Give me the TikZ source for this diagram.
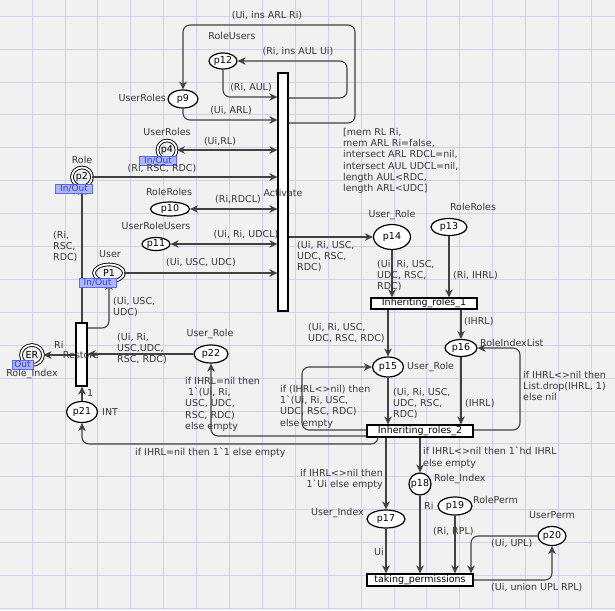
\documentclass[tikz,border=0pt]{standalone}
\usepackage{fontspec}
\setmainfont{DejaVu Sans}
\usetikzlibrary{shapes.geometric,arrows.meta}

\definecolor{canvas}{RGB}{241,241,241}
\definecolor{gridblue}{RGB}{208,208,242}
\definecolor{inkgray}{RGB}{55,55,55}
\definecolor{arcgray}{RGB}{65,65,65}
\definecolor{tagfill}{RGB}{172,182,250}
\definecolor{tagline}{RGB}{95,105,230}
\definecolor{tagtext}{RGB}{50,60,215}

\tikzset{
  place/.style={ellipse, draw=black, fill=white, line width=1.2pt, inner sep=0pt},
  portplace/.style={ellipse, draw=black, double=white, double distance=1.8pt, line width=0.9pt, inner sep=0pt},
  trans/.style={rectangle, draw=black, fill=white, line width=1.2pt, inner sep=0pt},
  arc/.style={->, draw=arcgray, line width=1.1pt},
  biarc/.style={<->, draw=arcgray, line width=1.1pt},
  lbl/.style={text=inkgray, inner sep=0pt, align=left},
  porttag/.style={fill=tagfill, draw=tagline, text=tagtext, inner sep=0.5pt, line width=0.6pt,
    text height=6.8pt, text depth=1.2pt, font=\fontsize{9}{10}\selectfont},
  gridline/.style={draw=gridblue, line width=0.5pt},
}

\begin{document}
\begin{tikzpicture}[x=1pt,y=-1pt, font={\fontsize{9.5}{11.2}\selectfont},
    >={Stealth[length=8pt,width=7.5pt,inset=2.5pt]}]
	\useasboundingbox (0,0) rectangle (615,610);
	\fill[canvas] (0,0) rectangle (615,610);
	\foreach \gx in {1,...,18} \draw[gridline] ({32.9*\gx-1},0) -- ++(0,610);
	\foreach \gy in {0,...,18} \draw[gridline] (0,{16+32.9*\gy}) -- ++(615,0);
	% transitions
	\node[trans, minimum width=10, minimum height=238] (act) at (283,192) {};
	\node[trans, minimum width=106, minimum height=11] (ir1) at (424,303.5) {Inheriting\_roles\_1};
	\node[trans, minimum width=106, minimum height=12] (ir2) at (420,431) {Inheriting\_roles\_2};
	\node[trans, minimum width=106, minimum height=12] (tp) at (420,580) {taking\_permissions};
	\node[trans, minimum width=11, minimum height=63] (rst) at (81.5,354.5) {};
	% places
	\node[place, minimum width=30, minimum height=18] (p9) at (183,99) {p9};
	\node[place, minimum width=28, minimum height=16] (p12) at (223,61) {p12};
	\node[place, minimum width=39, minimum height=14] (p10) at (170,209) {p10};
	\node[place, minimum width=28, minimum height=13] (p11) at (156,244) {p11};
	\node[place, minimum width=37, minimum height=25] (p14) at (392,237) {p14};
	\node[place, minimum width=36, minimum height=17] (p13) at (449,227) {p13};
	\node[place, minimum width=31, minimum height=20] (p15) at (388,367) {p15};
	\node[place, minimum width=32, minimum height=17] (p16) at (461,348) {p16};
	\node[place, minimum width=34, minimum height=18] (p22) at (211,354) {p22};
	\node[place, minimum width=31, minimum height=21] (p21) at (82,412) {p21};
	\node[place, minimum width=38, minimum height=18] (p17) at (386,519) {p17};
	\node[place, circle, minimum size=22] (p18) at (420,484) {p18};
	\node[place, minimum width=34, minimum height=18] (p19) at (455,506) {p19};
	\node[place, minimum width=28, minimum height=19] (p20) at (552,536) {p20};
	% port places
	\node[portplace, minimum width=19, minimum height=19] (p4) at (167,150) {p4};
	\node[portplace, minimum width=20, minimum height=19] (p2) at (82,177) {p2};
	\node[portplace, minimum width=30, minimum height=17] (p1) at (109,273) {P1};
	\node[portplace, minimum width=22, minimum height=20] (er) at (32,355) {ER};

	% arcs round Activate
	\draw[arc, rounded corners=7] (act.east |- 0,123) -- (355,123) -- (355,25) -- (183,25) -- (p9.north);
	\draw[arc, rounded corners=7] (act.east |- 0,98) -- (347,98) -- (347,61) -- (p12.east);
	\draw[arc, rounded corners=7] (p12.south) -- (223,97) -- (act.west |- 0,97);
	\draw[arc, rounded corners=7] (p9.south) -- (183,120) -- (act.west |- 0,120);
	\draw[biarc] (p4.east) -- (act.west |- p4.east);
	\draw[arc] (p2.east) -- (act.west |- p2.east);
	\draw[biarc] (p10.east) -- (act.west |- p10.east);
	\draw[biarc] (p11.east) -- (act.west |- p11.east);
	\draw[arc] (p1.east) -- (act.west |- p1.east);
	\draw[arc] (act.east |- p14.west) -- (p14.west);
	% inheriting roles
	\draw[arc] (p14.south) -- (p14.south |- ir1.north);
	\draw[arc] (p13.south) -- (p13.south |- ir1.north);
	\draw[arc] (ir1.south -| p15.north) -- (p15.north);
	\draw[arc] (ir1.south -| p16.north) -- (p16.north);
	\draw[arc] (p15.south) -- (p15.south |- ir2.north);
	\draw[arc] (p16.south) -- (p16.south |- ir2.north);
	\draw[arc, rounded corners=7] (ir2.east |- 0,430) -- (520,430) -- (520,348) -- (p16.east);
	\draw[arc, rounded corners=7] (ir2.west |- 0,430) -- (302,430) -- (302,367) -- (p15.west);
	\draw[arc, rounded corners=7] (ir2.west |- 0,436) -- (p22.south |- 0,436) -- (p22.south);
	\draw[arc, rounded corners=7] (ir2.south -| 378,0) -- (378,444) -- (82,444) -- (p21.south);
	\draw[arc] (ir2.south -| p17.north) -- (p17.north);
	\draw[arc] (ir2.south -| p18.north) -- (p18.north);
	% restore
	\draw[arc] (p22.west) -- (rst.east |- p22.west);
	\draw[arc] (rst.west |- er.east) -- (er.east);
	\draw[arc] (p21.north) -- (rst.south -| p21.north);
	\draw[arc] (rst.north -| p2.south) -- (p2.south);
	\draw[arc, rounded corners=7] (rst.east |- 0,328) -- (109,328) -- (p1.south);
	% permissions
	\draw[arc] (p17.south) -- (p17.south |- tp.north);
	\draw[arc] (p18.south) -- (p18.south |- tp.north);
	\draw[arc] (p19.south) -- (p19.south |- tp.north);
	\draw[arc, rounded corners=7] (p20.west) -- (471,536) -- (471,0 |- tp.north);
	\draw[arc, rounded corners=7] (tp.east) -- (552,580) -- (p20.south);

	% port tags
	\node[porttag, minimum width=37] (p4tag) at (158,161) {In/Out};
	\node[porttag, minimum width=37] (p2tag) at (74,188.5) {In/Out};
	\node[porttag, minimum width=37] (p1tag) at (97.5,283) {In/Out};
	\node[porttag, minimum width=21] (ertag) at (22.5,364.5) {Out};

	% names and inscriptions
	\node[lbl] (actL) at (283,193) {Activate};
	\node[lbl] (rstL) at (81,355) {Restore};
	\node[lbl] (lInsArl) at (267,16) {(Ui, ins ARL Ri)};
	\node[lbl] (lRoleUsers) at (232,36) {RoleUsers};
	\node[lbl] (lInsAul) at (298,52) {(Ri, ins AUL Ui)};
	\node[lbl] (lAul) at (251,88) {(Ri, AUL)};
	\node[lbl, anchor=east] (lUserRoles9) at (166,98) {UserRoles};
	\node[lbl] (lArl) at (231,111) {(Ui, ARL)};
	\node[lbl] (lUserRoles4) at (167,132) {UserRoles};
	\node[lbl] (lRl) at (220,142) {(Ui,RL)};
	\node[lbl] (lRole) at (82,160) {Role};
	\node[lbl] (lRscRdc) at (162,169) {(Ri, RSC, RDC)};
	\node[lbl] (lRoleRoles10) at (169,192) {RoleRoles};
	\node[lbl] (lRdcl) at (238,200) {(Ri,RDCL)};
	\node[lbl] (lUserRoleUsers) at (156,226) {UserRoleUsers};
	\node[lbl] (lUdcl) at (246,235) {(Ui, Ri, UDCL)};
	\node[lbl] (lUscUdc) at (201,263) {(Ui, USC, UDC)};
	\node[lbl] (lUser) at (110,254) {User};
	\node[lbl, anchor=north west] (lRestoreRole) at (53,231) {(Ri,\\RSC,\\RDC)};
	\node[lbl, anchor=north west] (lRestoreUser) at (113,297) {(Ui, USC,\\UDC)};
	\node[lbl, anchor=north west] (lToP14) at (297,241) {(Ui, Ri, USC,\\UDC, RSC,\\RDC)};
	\node[lbl, anchor=north west] (lGuard) at (343,128) {[mem RL Ri,\\mem ARL Ri=false,\\intersect ARL RDCL=nil,\\intersect AUL UDCL=nil,\\length AUL<RDC,\\length ARL<UDC]};
	\node[lbl] (lUserRole14) at (392,215) {User\_Role};
	\node[lbl] (lRoleRoles13) at (473,207) {RoleRoles};
	\node[lbl, anchor=north west] (lP14Ir1) at (377,260) {(Ui, Ri, USC,\\UDC, RSC,\\RDC)};
	\node[lbl, anchor=west] (lIhrl13) at (453,276) {(Ri, IHRL)};
	\node[lbl, anchor=west] (lIhrl1) at (464,322) {(IHRL)};
	\node[lbl, anchor=west] (lRoleIndexList) at (480,343) {RoleIndexList};
	\node[lbl, anchor=west] (lUserRole15) at (407,367) {User\_Role};
	\node[lbl, anchor=north west] (lIr1P15) at (308,323) {(Ui, Ri, USC,\\UDC, RSC, RDC)};
	\node[lbl, anchor=north west] (lDrop) at (523,371) {if IHRL<>nil then\\List.drop(IHRL, 1)\\else nil};
	\node[lbl, anchor=north west] (lP15Ir2) at (393,388) {(Ui, Ri, USC,\\UDC, RSC,\\RDC)};
	\node[lbl, anchor=west] (lIhrl2) at (465,404) {(IHRL)};
	\node[lbl, anchor=north west] (lBackP15) at (280,385) {if (IHRL<>nil) then\\1\textasciigrave(Ui, Ri, USC,\\UDC, RSC, RDC)\\else empty};
	\node[lbl, anchor=north west] (lToP22) at (185,377) {if IHRL=nil then\\\hspace{3pt}1\textasciigrave(Ui, Ri,\\USC, UDC,\\RSC, RDC)\\else empty};
	\node[lbl, anchor=west] (lToP21) at (135,453) {if IHRL=nil then 1\textasciigrave1 else empty};
	\node[lbl, anchor=north west] (lToP18) at (423,447) {if IHRL<>nil then 1\textasciigrave hd IHRL\\else empty};
	\node[lbl, anchor=north east, align=right] (lToP17) at (383,469) {if IHRL<>nil then\\1\textasciigrave Ui else empty};
	\node[lbl, anchor=east] (lUserIndex) at (364,513) {User\_Index};
	\node[lbl, anchor=west] (lRoleIndex18) at (434,479) {Role\_Index};
	\node[lbl, anchor=west] (lRi18) at (424,506) {Ri};
	\node[lbl, anchor=west] (lRolePerm) at (473,500) {RolePerm};
	\node[lbl] (lUserPerm) at (552,515) {UserPerm};
	\node[lbl, anchor=west] (lRpl) at (433,532) {(Ri, RPL)};
	\node[lbl, anchor=west] (lUpl) at (491,544) {(Ui, UPL)};
	\node[lbl, anchor=west] (lUi17) at (374,552) {Ui};
	\node[lbl, anchor=west] (lUnion) at (491,588) {(Ui, union UPL RPL)};
	\node[lbl] (lUserRole22) at (210,334) {User\_Role};
	\node[lbl, anchor=north west] (lP22Rst) at (117,333) {(Ui, Ri,\\USC,UDC,\\RSC, RDC)};
	\node[lbl, anchor=west] (lRiEr) at (54,345) {Ri};
	\node[lbl] (lRoleIndexEr) at (32,374) {Role\_Index};
	\node[lbl, anchor=west] (lOne) at (87,393) {1};
	\node[lbl, anchor=west] (lInt) at (102,412) {INT};
\end{tikzpicture}
\end{document}
